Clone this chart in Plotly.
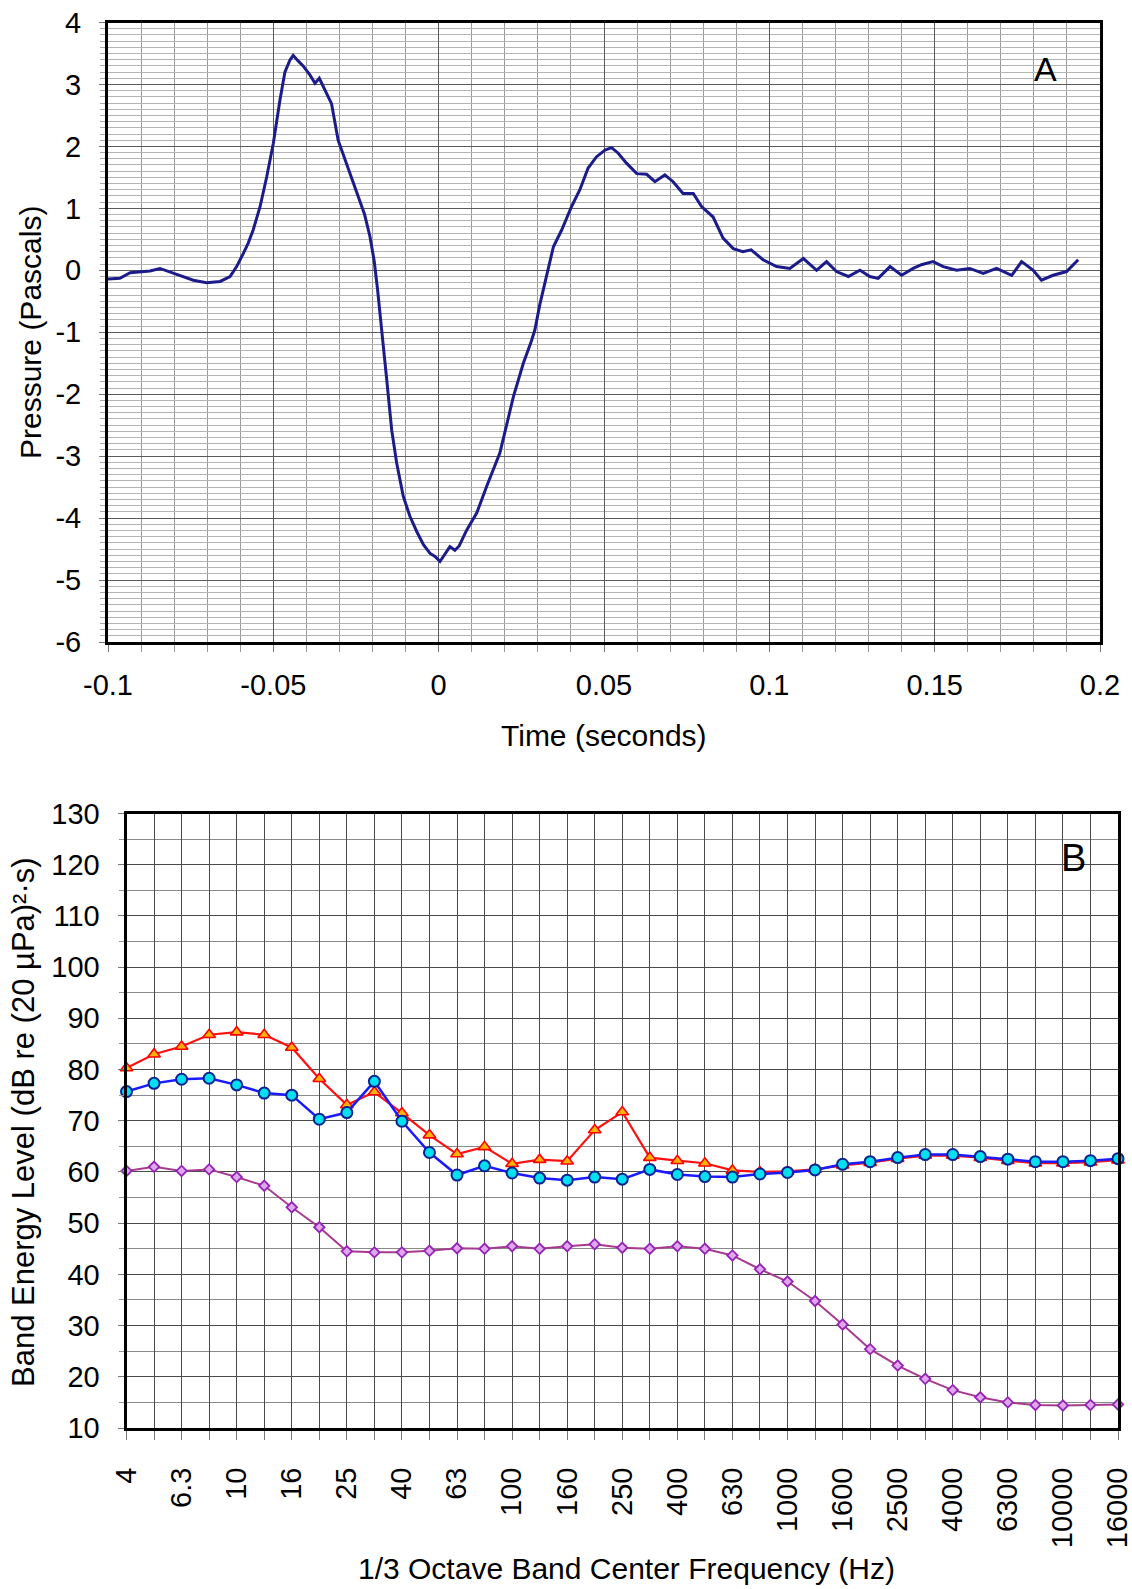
import plotly.graph_objects as go

W, H = 1132, 1589

# ---------------- Panel A data ----------------
time_s = [-0.1000, -0.0964, -0.0933, -0.0903, -0.0873, -0.0843, -0.0823, -0.0782, -0.0742, -0.0702,
          -0.0661, -0.0631, -0.0611, -0.0591, -0.0576, -0.0561, -0.0540, -0.0520, -0.0500, -0.0480,
          -0.0465, -0.0450, -0.0440, -0.0425, -0.0410, -0.0389, -0.0374, -0.0361, -0.0344, -0.0324,
          -0.0304, -0.0284, -0.0264, -0.0244, -0.0224, -0.0208, -0.0195, -0.0185, -0.0173, -0.0157,
          -0.0142, -0.0127, -0.0107, -0.0087, -0.0066, -0.0046, -0.0026, -0.0011, 0.0004, 0.0019,
          0.0034, 0.0049, 0.0062, 0.0085, 0.0115, 0.0145, 0.0185, 0.0226, 0.0256, 0.0280,
          0.0291, 0.0306, 0.0327, 0.0347, 0.0372, 0.0402, 0.0427, 0.0452, 0.0477, 0.0503,
          0.0523, 0.0543, 0.0568, 0.0599, 0.0629, 0.0654, 0.0684, 0.0709, 0.0739, 0.0770,
          0.0795, 0.0830, 0.0860, 0.0891, 0.0920, 0.0945, 0.0981, 0.1022, 0.1062, 0.1103,
          0.1143, 0.1173, 0.1203, 0.1239, 0.1274, 0.1304, 0.1329, 0.1365, 0.1400, 0.1435,
          0.1460, 0.1495, 0.1526, 0.1566, 0.1606, 0.1647, 0.1687, 0.1733, 0.1763, 0.1798,
          0.1823, 0.1858, 0.1899, 0.1934]
pressure_pa = [-0.14, -0.13, -0.04, -0.02, -0.01, 0.03, -0.01, -0.08, -0.16, -0.20,
               -0.18, -0.10, 0.06, 0.27, 0.44, 0.65, 1.03, 1.51, 2.05, 2.75,
               3.20, 3.39, 3.47, 3.38, 3.30, 3.15, 3.02, 3.10, 2.91, 2.69,
               2.10, 1.80, 1.50, 1.20, 0.90, 0.55, 0.15, -0.30, -0.98, -1.77,
               -2.58, -3.11, -3.65, -3.97, -4.22, -4.43, -4.57, -4.62, -4.70, -4.57,
               -4.46, -4.52, -4.45, -4.19, -3.92, -3.49, -2.95, -2.04, -1.50, -1.15,
               -0.96, -0.55, -0.05, 0.38, 0.65, 1.03, 1.30, 1.65, 1.83, 1.94,
               1.98, 1.89, 1.73, 1.56, 1.55, 1.43, 1.54, 1.43, 1.24, 1.24,
               1.03, 0.86, 0.52, 0.35, 0.30, 0.33, 0.17, 0.06, 0.03, 0.19,
               0.00, 0.14, -0.02, -0.10, 0.00, -0.10, -0.13, 0.06, -0.08, 0.03,
               0.09, 0.14, 0.06, 0.00, 0.03, -0.05, 0.03, -0.08, 0.14, 0.00,
               -0.16, -0.08, -0.02, 0.17]

top_x_tickvals = [-0.1, -0.05, 0, 0.05, 0.1, 0.15, 0.2]
top_x_ticktext = ["-0.1", "-0.05", "0", "0.05", "0.1", "0.15", "0.2"]
top_y_tickvals = [4, 3, 2, 1, 0, -1, -2, -3, -4, -5, -6]
top_y_ticktext = ["4", "3", "2", "1", "0", "-1", "-2", "-3", "-4", "-5", "-6"]

# ---------------- Panel B data ----------------
freq_labels = ["4", "5", "6.3", "8", "10", "12.5", "16", "20", "25", "31.5", "40", "50", "63", "80",
               "100", "125", "160", "200", "250", "315", "400", "500", "630", "800", "1000", "1250",
               "1600", "2000", "2500", "3150", "4000", "5000", "6300", "8000", "10000", "12500", "16000"]
red_db = [80.3, 83.0, 84.5, 86.8, 87.3, 86.8, 84.3, 78.2, 73.1, 75.6, 71.5, 67.2, 63.5, 64.9,
          61.6, 62.4, 62.1, 68.2, 71.7, 62.8, 62.2, 61.7, 60.3, 60.0, 60.1, 60.5,
          61.3, 61.8, 62.6, 63.2, 63.2, 62.8, 62.2, 61.7, 61.7, 61.9, 62.3]
blue_db = [75.7, 77.3, 78.1, 78.3, 77.0, 75.4, 75.0, 70.3, 71.6, 77.7, 69.9, 63.8, 59.4, 61.2,
           59.8, 58.8, 58.4, 59.0, 58.6, 60.5, 59.5, 59.1, 59.0, 59.6, 59.9, 60.4,
           61.5, 62.0, 62.8, 63.4, 63.4, 63.0, 62.5, 62.0, 62.0, 62.2, 62.6]
purple_db = [60.2, 61.0, 60.2, 60.5, 59.0, 57.3, 53.1, 49.2, 44.5, 44.3, 44.3, 44.6, 45.1, 45.0,
             45.5, 45.0, 45.5, 45.9, 45.2, 45.0, 45.5, 45.0, 43.7, 41.0, 38.6, 34.8,
             30.2, 25.4, 22.2, 19.6, 17.4, 16.0, 15.0, 14.5, 14.4, 14.5, 14.6]
bottom_x_ticktext = [lab if i % 2 == 0 else "" for i, lab in enumerate(freq_labels)]
bottom_y_tickvals = [10, 20, 30, 40, 50, 60, 70, 80, 90, 100, 110, 120, 130]

FONT = "Liberation Sans, Arial, sans-serif"
TICK_SIZE = 29
TITLE_SIZE = 30


def px_x(p):
    return p / W


def px_y(p):
    return 1 - p / H


fig = go.Figure()

fig.add_trace(go.Scatter(x=time_s, y=pressure_pa, mode="lines",
                         line=dict(color="#1b1b8c", width=3),
                         xaxis="x", yaxis="y", showlegend=False))

fig.add_trace(go.Scatter(x=freq_labels, y=purple_db, mode="lines+markers",
                         line=dict(color="#a8398f", width=2),
                         marker=dict(symbol="diamond", size=8, color="#e0a6ee",
                                     line=dict(color="#9424b6", width=1.8)),
                         xaxis="x2", yaxis="y2", cliponaxis=False, showlegend=False))
fig.add_trace(go.Scatter(x=freq_labels, y=red_db, mode="lines+markers",
                         line=dict(color="#ff1010", width=2.2),
                         marker=dict(symbol="triangle-up", size=11, color="#ffb200",
                                     line=dict(color="#ff0000", width=1.6)),
                         xaxis="x2", yaxis="y2", cliponaxis=False, showlegend=False))
fig.add_trace(go.Scatter(x=freq_labels, y=blue_db, mode="lines+markers",
                         line=dict(color="#1a1aff", width=2.5),
                         marker=dict(symbol="circle", size=11, color="#00e0f0",
                                     line=dict(color="#0a2290", width=2)),
                         xaxis="x2", yaxis="y2", cliponaxis=False, showlegend=False))

axis_common = dict(showline=True, linecolor="black", linewidth=3, mirror=True,
                   zeroline=False, ticks="outside", tickcolor="#777", tickwidth=1,
                   automargin=False, ticklabeloverflow="allow",
                   tickfont=dict(family=FONT, size=TICK_SIZE, color="black"))

fig.update_layout(
    width=W, height=H,
    margin=dict(l=0, r=0, t=0, b=0, autoexpand=False),
    paper_bgcolor="white", plot_bgcolor="white",
    font=dict(family=FONT, color="black"),
    xaxis=dict(domain=[px_x(108), px_x(1100)], anchor="y", range=[-0.1, 0.2],
               tickmode="array", tickvals=top_x_tickvals, ticktext=top_x_ticktext,
               showgrid=True, gridcolor="#5a5a5a", gridwidth=1.3, ticklen=7,
               ticklabelstandoff=8,
               minor=dict(dtick=0.01, tick0=0, showgrid=True, gridcolor="#9a9a9a",
                          gridwidth=1, ticks="outside", ticklen=7, tickcolor="#999"),
               **axis_common),
    yaxis=dict(domain=[px_y(642), px_y(22.5)], anchor="x", range=[-6, 4],
               tickmode="array", tickvals=top_y_tickvals, ticktext=top_y_ticktext,
               showgrid=True, gridcolor="#5a5a5a", gridwidth=1.3, ticklen=6,
               ticklabelstandoff=12,
               minor=dict(dtick=0.1, tick0=0, showgrid=True, gridcolor="#b4b4b4",
                          gridwidth=1, ticks="outside", ticklen=5, tickcolor="#aaa"),
               **axis_common),
    xaxis2=dict(domain=[px_x(126.5), px_x(1118)], anchor="y2", type="category",
                categoryorder="array", categoryarray=freq_labels, range=[0, 36],
                tickmode="array", tickvals=freq_labels, ticktext=bottom_x_ticktext,
                tickangle=-90, showgrid=True, gridcolor="#4a4a4a", gridwidth=1.3,
                ticklen=9, ticklabelstandoff=16,
                **axis_common),
    yaxis2=dict(domain=[px_y(1428), px_y(813.5)], anchor="x2", range=[10, 130],
                tickmode="array", tickvals=bottom_y_tickvals,
                showgrid=True, gridcolor="#4a4a4a", gridwidth=1.3, ticklen=6,
                ticklabelstandoff=12,
                minor=dict(dtick=5, tick0=0, showgrid=True, gridcolor="#8a8a8a",
                           gridwidth=1.2, ticks="outside", ticklen=5, tickcolor="#999"),
                **axis_common),
    annotations=[
        dict(text="A", x=px_x(1045), y=px_y(69), xref="paper", yref="paper",
             showarrow=False, xanchor="center", yanchor="middle",
             font=dict(family=FONT, size=34, color="black")),
        dict(text="B", x=px_x(1073), y=px_y(858), xref="paper", yref="paper",
             showarrow=False, xanchor="center", yanchor="middle",
             font=dict(family=FONT, size=38, color="black")),
        dict(text="Pressure (Pascals)", x=px_x(30), y=px_y(333), xref="paper", yref="paper",
             showarrow=False, textangle=-90, xanchor="center", yanchor="middle",
             font=dict(family=FONT, size=TITLE_SIZE, color="black")),
        dict(text="Time (seconds)", x=px_x(604), y=px_y(735), xref="paper", yref="paper",
             showarrow=False, xanchor="center", yanchor="middle",
             font=dict(family=FONT, size=TITLE_SIZE, color="black")),
        dict(text="Band Energy Level (dB re (20 µPa)²·s)", x=px_x(23), y=px_y(1122),
             xref="paper", yref="paper", showarrow=False, textangle=-90,
             xanchor="center", yanchor="middle",
             font=dict(family=FONT, size=31, color="black")),
        dict(text="1/3 Octave Band Center Frequency (Hz)", x=px_x(626), y=px_y(1568),
             xref="paper", yref="paper", showarrow=False, xanchor="center", yanchor="middle",
             font=dict(family=FONT, size=TITLE_SIZE, color="black")),
    ],
)

# remove the browser's default page margin so the figure fills the window exactly
fig.write_html("out.html",
               config={"displayModeBar": False},
               post_script="document.body.style.margin='0';"
                           "document.body.style.overflow='hidden';")
